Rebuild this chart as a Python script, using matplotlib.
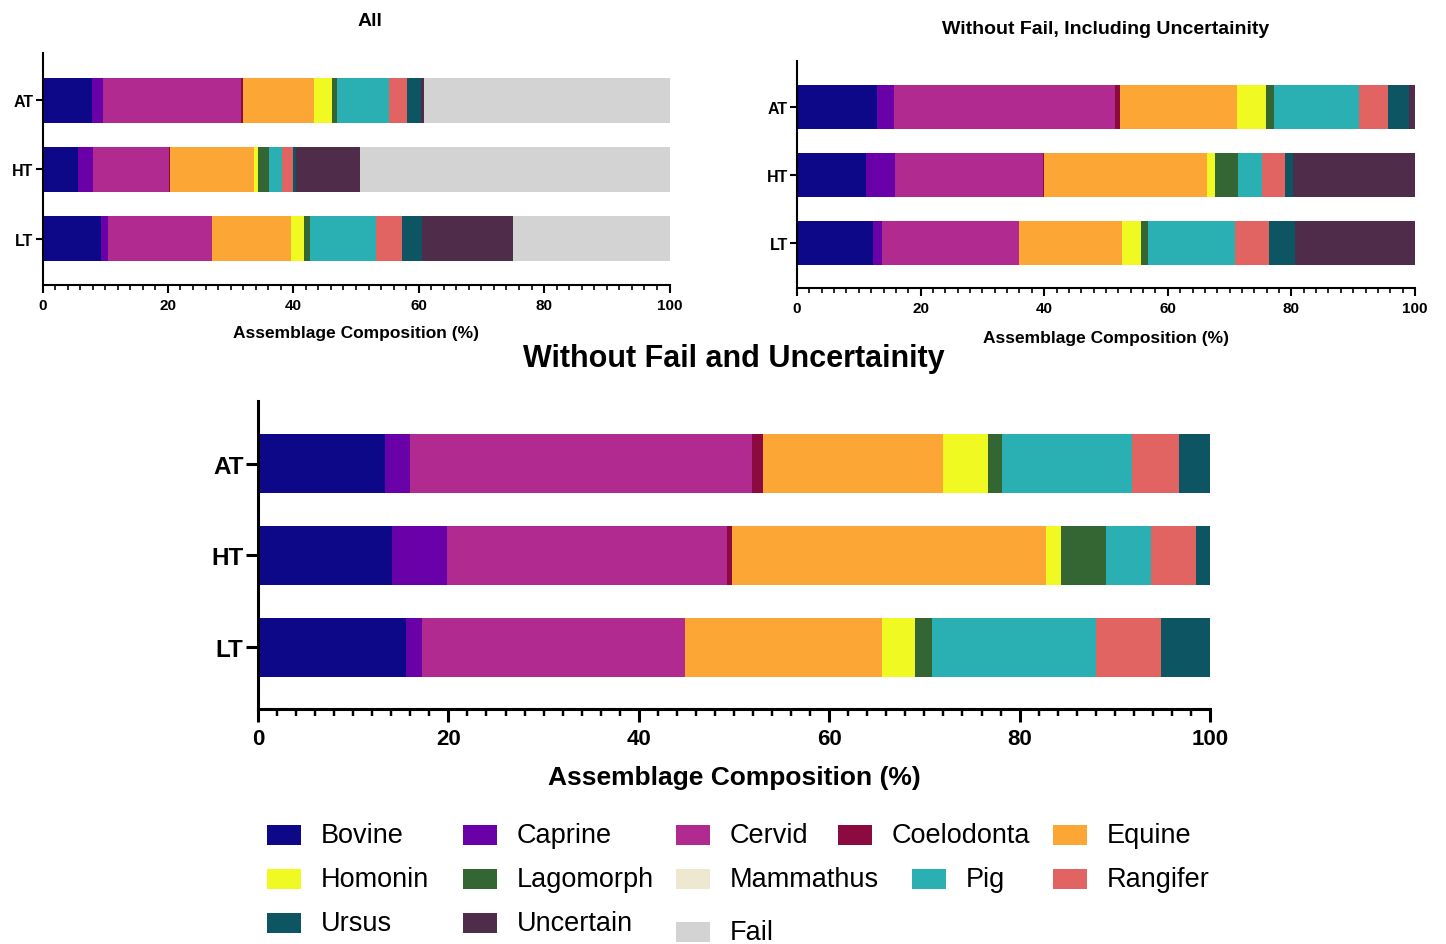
import matplotlib
matplotlib.use("Agg")
import matplotlib.pyplot as plt
from matplotlib.patches import Rectangle
from matplotlib.ticker import MultipleLocator

# Taxa, in stacking order
species = ["Bovine", "Caprine", "Cervid", "Coelodonta", "Equine", "Homonin",
           "Lagomorph", "Mammathus", "Pig", "Rangifer", "Ursus", "Uncertain", "Fail"]
colors = ["#0d0887", "#6a00a8", "#b12a90", "#8b0a3f", "#fca636", "#f0f921",
          "#336633", "#efe8d0", "#2ab0b2", "#e16462", "#0d5563", "#4f2d4a", "#d3d3d3"]
sites = ["AT", "HT", "LT"]

# Panel "All": share (%) of each taxon, same order as species
all_at = [7.9, 1.7, 22.0, 0.3, 11.4, 2.9, 0.8, 0.0, 8.2, 2.9, 2.3, 0.4, 39.2]
all_ht = [5.7, 2.4, 12.1, 0.1, 13.4, 0.7, 1.8, 0.0, 2.0, 1.8, 0.4, 10.3, 49.3]
all_lt = [9.3, 1.1, 16.7, 0.0, 12.5, 2.1, 1.0, 0.0, 10.5, 4.2, 3.1, 14.6, 24.9]

# Panel "Without Fail, Including Uncertainity" (no Fail share)
nofail_at = [13.0, 2.7, 35.7, 0.9, 18.9, 4.7, 1.3, 0.0, 13.7, 4.7, 3.5, 0.9]
nofail_ht = [11.2, 4.6, 24.0, 0.2, 26.3, 1.3, 3.8, 0.0, 3.8, 3.7, 1.4, 19.7]
nofail_lt = [12.3, 1.5, 22.2, 0.0, 16.6, 3.0, 1.2, 0.0, 14.1, 5.5, 4.2, 19.4]

# Panel "Without Fail and Uncertainity" (identified taxa only)
ident_at = [13.3, 2.7, 35.9, 1.1, 19.0, 4.7, 1.4, 0.0, 13.7, 4.9, 3.3]
ident_ht = [14.1, 5.8, 29.4, 0.5, 33.0, 1.5, 4.8, 0.0, 4.7, 4.7, 1.5]
ident_lt = [15.5, 1.7, 27.7, 0.0, 20.6, 3.5, 1.8, 0.0, 17.2, 6.9, 5.1]

FONT = "Liberation Sans"
plt.rcParams["font.family"] = [FONT, "DejaVu Sans"]

W, H = 1446, 945
fig = plt.figure(figsize=(W / 100, H / 100), dpi=100)


def px_axes(x0, y0, x1, y1):
    return fig.add_axes([x0 / W, 1 - y1 / H, (x1 - x0) / W, (y1 - y0) / H])


def stacked(ax, rows, lw, xtick_fs, ytick_fs, label_fs, maj_len, min_len, ylen,
            title, title_fs, title_pad, title_x=0.5, label_pad=4, xpad=3.5):
    n = len(rows[0])
    lefts = [0.0] * len(rows)
    for k in range(n):
        widths = [r[k] for r in rows]
        ax.barh(range(len(rows)), widths, left=lefts, height=0.65,
                color=colors[k], linewidth=0)
        lefts = [a + b for a, b in zip(lefts, widths)]
    ax.set_xlim(0, 100)
    ax.set_ylim(2.67, -0.68)
    ax.set_yticks(range(len(sites)))
    ax.set_yticklabels(sites, fontsize=ytick_fs, fontweight="bold")
    ax.xaxis.set_major_locator(MultipleLocator(20))
    ax.xaxis.set_minor_locator(MultipleLocator(2))
    ax.tick_params(axis="x", which="major", length=maj_len, width=lw,
                   labelsize=xtick_fs, pad=xpad)
    ax.tick_params(axis="x", which="minor", length=min_len, width=lw * 0.8)
    ax.tick_params(axis="y", length=ylen, width=lw, pad=1.5)
    for lab in ax.get_xticklabels():
        lab.set_fontweight("bold")
    for s in ("top", "right"):
        ax.spines[s].set_visible(False)
    for s in ("left", "bottom"):
        ax.spines[s].set_linewidth(lw)
    ax.set_xlabel("Assemblage Composition (%)", fontsize=label_fs, fontweight="bold",
                  labelpad=label_pad)
    ax.set_title(title, fontsize=title_fs, fontweight="bold", pad=title_pad, x=title_x)


ax1 = px_axes(42.5, 54, 669.5, 286)
stacked(ax1, [all_at, all_ht, all_lt], 1.5, 11, 11.5, 12.5, 6, 3.5, 5,
        "All", 14, 20, title_x=0.522, label_pad=9.5)

ax2 = px_axes(797, 62, 1415, 289)
stacked(ax2, [nofail_at, nofail_ht, nofail_lt], 1.5, 11, 11.5, 12.5, 6, 3.5, 5,
        "Without Fail, Including Uncertainity", 14, 20, label_pad=11)

ax3 = px_axes(258, 402, 1210, 710)
stacked(ax3, [ident_at, ident_ht, ident_lt], 2.2, 16, 17.5, 19, 9, 5, 9,
        "Without Fail and Uncertainity", 22, 25.5, label_pad=11.5, xpad=5)

# Legend laid out in rows
legend_rows = [
    (836, [267, 463, 676, 838, 1053], species[0:5]),
    (880, [267, 463, 676, 912, 1053], species[5:10]),
    (924, [267, 463], species[10:12]),
    (933, [676], species[12:13]),
]
for yc, xs, names in legend_rows:
    for x, name in zip(xs, names):
        c = colors[species.index(name)]
        fig.add_artist(Rectangle((x / W, 1 - (yc + 10) / H), 34 / W, 20 / H,
                                 transform=fig.transFigure, facecolor=c, edgecolor="none"))
        fig.text((x + 54) / W, 1 - yc / H, name, fontsize=19.5, va="center", ha="left")

fig.savefig("out.png", dpi=100)
